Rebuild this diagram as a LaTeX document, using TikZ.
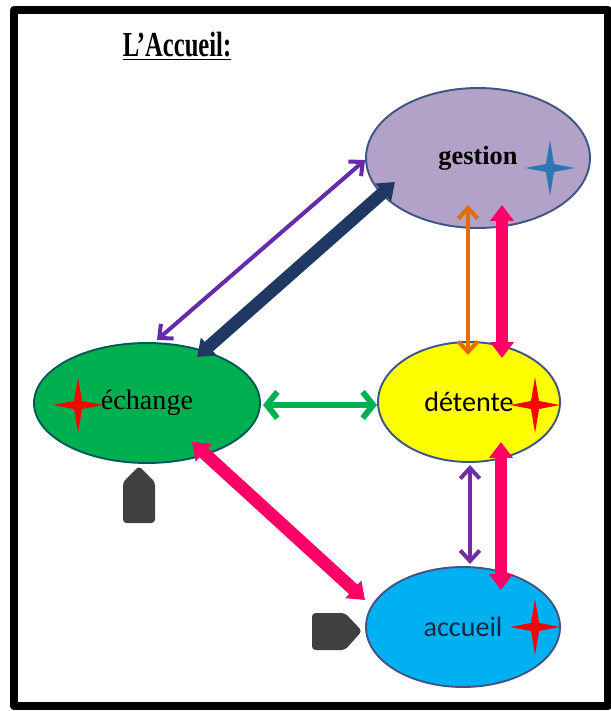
\documentclass[tikz,border=0pt]{standalone}
\usepackage{fontspec}
\usepackage{graphicx}
\setmainfont{Liberation Serif}
\newfontfamily\calibri{Carlito}
\usepackage{tikz}
\usetikzlibrary{arrows.meta, shapes.geometric}
\definecolor{Lavande}{HTML}{B3A2C7}
\definecolor{Jaune}{HTML}{FFFF00}
\definecolor{VertBulle}{HTML}{00B050}
\definecolor{BleuBulle}{HTML}{00B0F0}
\definecolor{Bord}{HTML}{3F5585}
\definecolor{Violet}{HTML}{7030A0}
\definecolor{Marine}{HTML}{1F3864}
\definecolor{Orange}{HTML}{E46C0A}
\definecolor{Rose}{HTML}{FF0066}
\definecolor{Gris}{HTML}{404040}
\definecolor{BleuEtoile}{HTML}{2E75B6}
\newcommand{\etoile}[2]{\fill [#2] (#1) +(0,-28) -- +(4,-4) -- +(25,0) -- +(4,4) -- +(0,28) -- +(-4,4) -- +(-25,0) -- +(-4,-4) -- cycle;}

\begin{document}
\begin{tikzpicture}[x=0.02cm, y=-0.02cm, line join=round,
    bulle/.style={ellipse, inner sep=0pt, outer sep=0pt, line width=1.1pt, draw=Bord},
    fin/.style={<->, >={Straight Barb[length=6pt, width=11pt]}, line width=2.3pt},
    gros/.style={<->, >={Triangle[length=9pt, width=13pt]}, line width=7.2pt}]
    \useasboundingbox (0,0) rectangle (611,711);
    % Cadre et titre
    \draw [line width=4.5pt] (14,10) rectangle (608,706);
    \node [font=\bfseries\fontsize{20}{22}\selectfont] (titre) at (177,46) {\scalebox{0.7}[1]{\underline{L’Accueil:}}};

    % Bulles
    \node [bulle, fill=Lavande, minimum width=4.48cm, minimum height=2.8cm, font=\bfseries\fontsize{15}{18}\selectfont] (gestion) at (478,158) {\raisebox{-0.1cm}{gestion}};
    \node [bulle, fill=Jaune, minimum width=3.64cm, minimum height=2.4cm, font=\calibri\fontsize{16}{18}\selectfont] (detente) at (469,402) {détente};
    \node [bulle, fill=VertBulle, draw=teal!70!black, minimum width=4.52cm, minimum height=2.4cm, font=\fontsize{16}{18}\selectfont] (echange) at (147,403) {échange};
    \node [bulle, fill=BleuBulle, minimum width=3.88cm, minimum height=2.4cm, font=\calibri\fontsize{16}{18}\selectfont, text=Marine!70!black] (accueil) at (463,627) {accueil};

    % Etoiles
    \etoile{550,168}{BleuEtoile}
    \etoile{78,405}{red}
    \etoile{535,405}{red}
    \etoile{535,627}{red}

    % Fleches
    \draw [fin, Violet!90!blue] ([shift={(-113,2)}]gestion.center) -- ([shift={(10,-63)}]echange.center);
    \draw [gros, Marine] ([shift={(-83,24)}]gestion.center) -- ([shift={(50,-46)}]echange.center);
    \draw [fin, VertBulle, line width=3.4pt, >={Straight Barb[length=6pt, width=15pt]}] ([shift={(116,2)}]echange.center) -- ([shift={(-92,3)}]detente.center);
    \draw [fin, Orange] ([shift={(-10,47)}]gestion.center) -- ([shift={(-1,-47)}]detente.center);
    \draw [gros, Rose] ([shift={(24,47)}]gestion.center) -- ([shift={(33,-44)}]detente.center);
    \draw [fin, Violet] ([shift={(1,63)}]detente.center) -- ([shift={(7,-63)}]accueil.center);
    \draw [gros, Rose] ([shift={(32,40)}]detente.center) -- ([shift={(38,-37)}]accueil.center);
    \draw [gros, Rose] ([shift={(45,39)}]echange.center) -- ([shift={(-98,-27)}]accueil.center);

    % Pictos gris
    \fill [Gris, rounded corners=2pt] (139,466) -- (155,482) -- (155,523) -- (123,523) -- (123,482) -- cycle;
    \fill [Gris, rounded corners=2pt] (312,613) -- (345,613) -- (362,631) -- (345,650) -- (312,650) -- cycle;
\end{tikzpicture}
\end{document}
